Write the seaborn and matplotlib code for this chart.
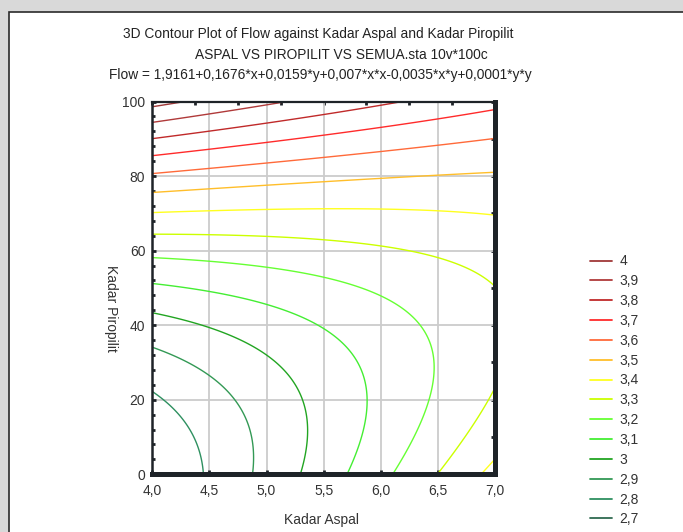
import numpy as np
import matplotlib
matplotlib.use("Agg")
import matplotlib.pyplot as plt
from matplotlib.lines import Line2D
from matplotlib.patches import Rectangle
import seaborn as sns

# Fitted response surface: Flow = b0 + b1*x + b2*y + b3*x*x + b4*x*y + b5*y*y
coef_terms = ["1", "x", "y", "x*x", "x*y", "y*y"]
coef_values = [1.9161, 0.1676, 0.0159, 0.0070, -0.00346, 0.000113]

aspal_limits = [4.0, 7.0]          # Kadar Aspal (x)
piropilit_limits = [0.0, 100.0]    # Kadar Piropilit (y)

levels = [2.7, 2.8, 2.9, 3.0, 3.1, 3.2, 3.3, 3.4, 3.5, 3.6, 3.7, 3.8, 3.9, 4.0]
level_labels = ["2,7", "2,8", "2,9", "3", "3,1", "3,2", "3,3", "3,4", "3,5",
                "3,6", "3,7", "3,8", "3,9", "4"]
level_colors = ["#2f6a50", "#2e9060", "#339955", "#22a522", "#44ee33", "#66ff33",
                "#ccff00", "#ffff20", "#ffbe2a", "#ff6a3a", "#ff2b2b", "#c02a2a",
                "#b03a3a", "#a03838"]

x_ticks = [4.0, 4.5, 5.0, 5.5, 6.0, 6.5, 7.0]
x_tick_labels = ["4,0", "4,5", "5,0", "5,5", "6,0", "6,5", "7,0"]
y_ticks = [0, 20, 40, 60, 80, 100]
y_tick_labels = ["0", "20", "40", "60", "80", "100"]

title_lines = [
    "3D Contour Plot of Flow against Kadar Aspal and Kadar Piropilit",
    "ASPAL VS PIROPILIT VS SEMUA.sta 10v*100c",
    "Flow = 1,9161+0,1676*x+0,0159*y+0,007*x*x-0,0035*x*y+0,0001*y*y",
]

sns.set_theme(style="white")
plt.rcParams["font.family"] = ["Liberation Sans", "DejaVu Sans"]

W, H = 683, 532
fig = plt.figure(figsize=(W / 100, H / 100), dpi=100)
fig.patch.set_facecolor("#d9d9d9")

# white panel with a dark border (runs off the right and bottom edges)
fig.add_artist(Rectangle((9 / W, -0.1), 1.0, 1.1 - 12 / H, transform=fig.transFigure,
                         facecolor="white", edgecolor="#2a2a2a", linewidth=1.2,
                         zorder=0))

ax = fig.add_axes([152.3 / W, 1 - 474.3 / H, (495 - 152.3) / W, (474.3 - 101.5) / H])
ax.set_facecolor("white")

gx = np.linspace(aspal_limits[0], aspal_limits[1], 241)
gy = np.linspace(piropilit_limits[0], piropilit_limits[1], 241)
X, Y = np.meshgrid(gx, gy)
terms = [np.ones_like(X), X, Y, X * X, X * Y, Y * Y]
Z = sum(c * t for c, t in zip(coef_values, terms))

ax.contour(X, Y, Z, levels=levels, colors=level_colors, linewidths=1.0, zorder=3)

ax.set_xlim(*aspal_limits)
ax.set_ylim(*piropilit_limits)
ax.set_xticks(x_ticks)
ax.set_xticklabels(x_tick_labels)
ax.set_yticks(y_ticks)
ax.set_yticklabels(y_tick_labels)
ax.set_yticks(np.arange(0, 101, 4), minor=True)
ax.grid(True, which="major", color="#cccccc", linewidth=1.3, zorder=1)
ax.set_axisbelow(True)

tick_color = "#1e2328"
ax.tick_params(axis="both", which="major", direction="in", length=3, width=2,
               color=tick_color, labelsize=10, labelcolor="#333333")
ax.tick_params(axis="x", which="major", pad=7)
ax.tick_params(axis="y", which="major", pad=5)
ax.tick_params(axis="y", which="minor", direction="in", length=2.5, width=2,
               color=tick_color, left=True)
ax.tick_params(axis="x", bottom=True)
ax.tick_params(axis="y", left=True)

for side, lw in [("top", 1.6), ("left", 1.8), ("bottom", 3.6), ("right", 3.6)]:
    ax.spines[side].set_visible(True)
    ax.spines[side].set_color(tick_color)
    ax.spines[side].set_linewidth(lw)
    ax.spines[side].set_zorder(5)

top = ax.secondary_xaxis("top")
top.set_xticks(np.linspace(aspal_limits[0], aspal_limits[1], 9))
top.tick_params(direction="in", length=3, width=2, color=tick_color, labeltop=False)
top.spines["top"].set_visible(False)
right = ax.secondary_yaxis("right")
right.set_yticks(np.arange(0, 101, 10))
right.tick_params(direction="in", length=3, width=2, color=tick_color, labelright=False)
right.spines["right"].set_visible(False)

fig.text(322 / W, 1 - 520 / H, "Kadar Aspal", ha="center", va="center",
         fontsize=10, color="#333333")
fig.text(111 / W, 1 - 308 / H, "Kadar Piropilit", rotation=270, ha="center",
         va="center", fontsize=10, color="#333333")

for txt, cx, cy in zip(title_lines, [318, 341, 320], [34, 54.5, 75]):
    fig.text(cx / W, 1 - cy / H, txt, ha="center", va="center", fontsize=9.9,
             color="#222222")

handles = [Line2D([], [], color=c, linewidth=1.3) for c in level_colors[::-1]]
leg = fig.legend(handles, level_labels[::-1], loc="upper left",
                 bbox_to_anchor=(590 / W, 1 - 254.5 / H), frameon=False,
                 fontsize=10, handlelength=1.6, handletextpad=0.5,
                 labelspacing=0.42, borderaxespad=0, borderpad=0)
for t in leg.get_texts():
    t.set_color("#333333")

fig.savefig("out.png", dpi=100, facecolor=fig.get_facecolor())
